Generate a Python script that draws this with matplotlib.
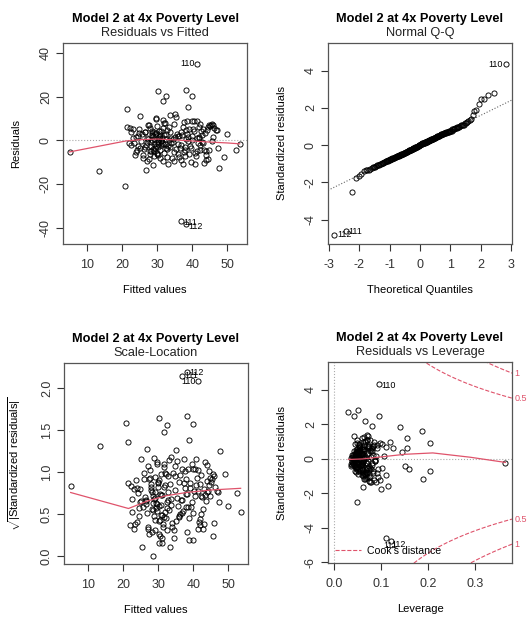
import matplotlib
matplotlib.use("Agg")
import matplotlib.pyplot as plt
import numpy as np
from statistics import NormalDist

plt.rcParams['font.family'] = ['Liberation Sans', 'DejaVu Sans']
plt.rcParams['mathtext.fontset'] = 'custom'
plt.rcParams['mathtext.rm'] = 'Liberation Sans'
plt.rcParams['axes.unicode_minus'] = False

# fitted values / residuals / leverage
fitted = [
    22.1, 23.4, 24.8, 26.2, 27.5, 28.3, 29.1, 29.8, 30.6, 31.2,
    31.9, 32.7, 33.4, 34.2, 35.1, 36.0, 36.8, 37.7, 38.5, 39.4,
    40.2, 41.1, 42.0, 42.9, 43.8, 44.6, 45.3, 28.7, 29.4, 30.1,
    27.9, 28.4, 29.0, 29.6, 30.3, 30.9, 31.5, 32.2, 26.8, 27.3,
    25.6, 24.2, 23.0, 21.8, 22.6, 24.9, 26.0, 33.0, 33.7, 34.5,
    35.4, 36.3, 37.2, 38.1, 38.9, 39.8, 40.7, 41.6, 42.4, 43.3,
    28.1, 28.8, 29.3, 29.9, 30.4, 31.0, 31.7, 27.6, 28.5, 29.2,
    30.0, 30.7, 31.4, 32.0, 32.9, 33.6, 34.4, 35.2, 36.1, 37.0,
    37.9, 38.7, 39.6, 40.5, 41.3, 42.2, 43.1, 44.0, 44.9, 45.7,
    23.8, 24.5, 25.3, 26.5, 27.1, 27.8, 28.2, 28.9, 29.5, 30.2,
    30.8, 31.3, 31.8, 32.4, 33.1, 33.9, 34.7, 35.6, 36.5, 37.4,
    38.3, 39.1, 40.0, 40.9, 41.8, 42.7, 43.6, 44.4, 45.1, 45.9,
    29.7, 30.5, 31.1, 28.6, 29.0, 30.3, 31.6, 32.5, 27.2, 26.4,
    25.1, 23.2, 22.4, 21.4, 24.0, 36.7, 37.5, 38.0, 39.0, 39.9,
    41.4, 42.3, 43.2, 44.2, 46.3, 34.0, 34.9, 35.8, 33.3, 32.8,
    28.0, 28.6, 29.1, 29.7, 30.2, 30.7, 31.2, 32.3, 33.5, 27.0,
    35.9, 36.9, 37.8, 38.6, 39.5, 40.4, 41.2, 42.1, 43.0, 44.7,
    26.6, 27.4, 24.4, 25.8, 32.6, 34.8, 41.9, 45.5, 47.0, 23.6,
    5.0, 13.5, 20.9, 21.3, 25.0, 26.8, 30.1, 32.6, 31.7, 38.3,
    39.8, 38.8, 41.2, 36.9, 38.2, 53.5, 52.5, 50.0, 47.5, 48.9,
    47.3, 46.7, 35.0, 46.0, 43.9, 31.5,
]
resid = [
    5.8, -1.2, 3.4, -4.1, 7.2, -2.6, 0.8, -6.3, 4.5, -0.4,
    2.3, -3.8, 6.1, -8.2, 1.5, -1.9, 3.7, -5.4, 9.0, -2.8,
    5.0, -7.1, 1.1, 2.6, -4.7, 5.9, 6.8, 1.9, -3.3, 0.2,
    -5.1, 4.2, -7.4, 9.9, -1.5, 3.1, -9.3, 7.8, -2.2, 0.6,
    2.9, -4.6, 0.9, -1.1, -2.3, 5.3, -6.9, -2.5, 3.9, -0.8,
    -4.0, 2.1, -10.9, 4.6, -0.3, 8.8, -5.8, -1.4, 4.1, -10.2,
    -0.7, -3.9, 2.7, -5.7, 0.5, -2.0, 5.6, -8.6, 3.3, -1.6,
    6.5, -4.4, 1.2, -6.0, 4.8, -3.1, 0.4, 10.6, -7.8, 2.4,
    -2.9, 1.7, -9.9, 8.9, 0.9, -4.3, 5.2, -6.6, 7.1, -0.5,
    1.4, -2.7, -0.1, 3.6, -9.6, 5.7, -4.9, -11.2, 10.3, -6.7,
    2.0, -1.0, 8.1, -3.5, -10.7, 1.0, -5.2, 3.0, -3.7, 6.3,
    0.7, -6.2, 2.2, -11.0, 6.0, -0.9, 3.5, -8.4, 6.4, 1.3,
    -2.4, 1.6, -0.2, 0.0, 4.0, -3.0, -1.8, 2.8, 1.0, -3.2,
    -3.6, 5.2, 3.8, 6.2, -5.5, -8.9, 8.4, -4.5, 5.4, 0.3,
    8.7, -2.1, -4.4, 4.9, 5.5, -1.3, 7.5, -6.4, 0.1, -7.6,
    -6.1, 2.5, -4.8, 3.2, -0.6, -8.0, 4.4, -1.7, 11.4, -0.9,
    1.8, -2.2, -7.0, 2.9, -3.4, 4.3, -5.0, 7.7, -1.2, -4.2,
    3.7, 7.0, 1.9, -8.1, 0.8, -9.6, 1.6, 7.6, 4.7, -6.8,
    -5.3, -14.0, -21.0, 14.5, 11.1, -13.5, 22.7, 20.4, 18.1, 23.2,
    20.1, 15.5, 35.1, -37.0, -38.3, -1.9, -4.5, 2.8, -12.5, -7.7,
    -3.3, 4.8, 12.2, 6.9, -9.0, 9.5,
]
lev = [
    0.071, 0.062, 0.055, 0.048, 0.044, 0.051, 0.039, 0.046, 0.058, 0.042,
    0.047, 0.036, 0.053, 0.061, 0.044, 0.067, 0.052, 0.073, 0.049, 0.081,
    0.078, 0.065, 0.088, 0.072, 0.094, 0.083, 0.102, 0.038, 0.041, 0.035,
    0.049, 0.055, 0.062, 0.058, 0.043, 0.050, 0.068, 0.066, 0.056, 0.037,
    0.060, 0.072, 0.078, 0.086, 0.069, 0.052, 0.064, 0.040, 0.048, 0.057,
    0.046, 0.059, 0.079, 0.063, 0.054, 0.070, 0.082, 0.061, 0.075, 0.097,
    0.042, 0.051, 0.047, 0.055, 0.045, 0.039, 0.060, 0.074, 0.048, 0.044,
    0.053, 0.046, 0.058, 0.050, 0.062, 0.043, 0.067, 0.071, 0.065, 0.057,
    0.060, 0.052, 0.084, 0.077, 0.063, 0.069, 0.080, 0.091, 0.098, 0.087,
    0.065, 0.058, 0.050, 0.042, 0.066, 0.054, 0.059, 0.076, 0.063, 0.069,
    0.044, 0.038, 0.061, 0.043, 0.073, 0.052, 0.060, 0.049, 0.055, 0.064,
    0.050, 0.068, 0.058, 0.089, 0.074, 0.071, 0.079, 0.093, 0.085, 0.105,
    0.036, 0.040, 0.045, 0.041, 0.047, 0.037, 0.048, 0.051, 0.053, 0.057,
    0.061, 0.074, 0.080, 0.090, 0.068, 0.070, 0.066, 0.058, 0.072, 0.064,
    0.070, 0.081, 0.077, 0.090, 0.110, 0.054, 0.048, 0.062, 0.041, 0.050,
    0.044, 0.050, 0.053, 0.046, 0.041, 0.058, 0.049, 0.037, 0.070, 0.043,
    0.055, 0.060, 0.067, 0.050, 0.073, 0.062, 0.078, 0.084, 0.086, 0.101,
    0.063, 0.052, 0.069, 0.075, 0.046, 0.064, 0.082, 0.118, 0.126, 0.082,
    0.205, 0.100, 0.048, 0.140, 0.042, 0.062, 0.030, 0.042, 0.065, 0.050,
    0.095, 0.080, 0.095, 0.110, 0.120, 0.365, 0.160, 0.145, 0.115, 0.110,
    0.150, 0.155, 0.187, 0.205, 0.190, 0.155,
]
labels = {"110": 192, "111": 193, "112": 194}  # index of labelled obs
sigma = 8.5
n_par = 15

# lowess curves as drawn by R
smooth1_x = [5, 21, 25, 30, 35, 40, 45, 50, 53.5]
smooth1_y = [-5.3, -0.3, 0.3, 0.6, 0.2, -0.3, -0.8, -1.2, -1.6]
smooth3_x = [5, 21.5, 27, 32, 38, 45, 53.5]
smooth3_y = [0.76, 0.57, 0.66, 0.72, 0.76, 0.79, 0.81]
smooth4_x = [0.03, 0.06, 0.1, 0.15, 0.21, 0.29, 0.365]
smooth4_y = [-0.05, -0.02, 0.1, 0.25, 0.33, 0.08, -0.22]

fitted = np.array(fitted)
resid = np.array(resid)
lev = np.array(lev)
std = resid / (sigma * np.sqrt(1 - lev))
n = len(std)
order = np.argsort(std)
theo = np.empty(n)
theo[order] = [NormalDist().inv_cdf((i + 0.5) / n) for i in range(n)]

red = "#DF536B"
pt = dict(marker='o', ls='none', mfc='none', mec='black', ms=3.7, mew=0.65)
title = "Model 2 at 4x Poverty Level"
lab_fs = 6.5

fig = plt.figure(figsize=(5.29, 6.18), dpi=100)
W, H = 5.29 * 100, 6.18 * 100
boxes = [(63, 43), (328, 43), (64, 363), (328, 362)]
axs = [fig.add_axes([x / W, 1 - (y + 201) / H, 184 / W, 201 / H]) for x, y in boxes]


def style(ax, sub, xlab, ylab):
    ax.text(0.5, 1.12, title, transform=ax.transAxes, ha='center', va='center',
            fontsize=9.2, fontweight='bold')
    ax.text(0.5, 1.05, sub, transform=ax.transAxes, ha='center', va='center',
            fontsize=9.2, color='#222222')
    ax.set_xlabel(xlab, fontsize=8)
    ax.set_ylabel(ylab, fontsize=8)
    ax.xaxis.set_label_coords(0.5, -0.205)
    ax.yaxis.set_label_coords(-0.225, 0.5)
    ax.tick_params(direction='out', length=5, width=0.8, labelsize=9,
                   colors='#333333')
    ax.tick_params(axis='x', pad=6)
    ax.tick_params(axis='y', pad=3)
    for lab in ax.get_yticklabels():
        lab.set_rotation(90)
        lab.set_va('center')
    for s in ax.spines.values():
        s.set_color('#555555')
        s.set_linewidth(0.9)


# Residuals vs Fitted
ax = axs[0]
ax.axhline(0, color='#aaaaaa', ls=':', lw=0.8)
ax.plot(fitted, resid, **pt)
ax.plot(smooth1_x, smooth1_y, color=red, lw=0.9)
ax.set_xlim(3.1, 55.6)
ax.set_ylim(-47.5, 44.6)
ax.set_xticks([10, 20, 30, 40, 50])
ax.set_yticks([-40, -20, 0, 20, 40])
i = labels["110"]
ax.text(fitted[i] - 0.6, resid[i], "110", ha='right', va='center', fontsize=lab_fs)
i = labels["111"]
ax.text(fitted[i] + 0.6, resid[i] - 0.5, "111", ha='left', va='center', fontsize=lab_fs)
i = labels["112"]
ax.text(fitted[i] + 0.6, resid[i] - 1.0, "112", ha='left', va='center', fontsize=lab_fs)
style(ax, "Residuals vs Fitted", "Fitted values", "Residuals")

# Normal Q-Q
ax = axs[1]
q1, q3 = np.percentile(std, [25, 75])
z = NormalDist().inv_cdf(0.75)
slope = (q3 - q1) / (2 * z)
ax.axline((0, (q1 + q3) / 2), slope=slope, color='#666666', ls=':', lw=0.8)
ax.plot(theo, std, **pt)
ax.set_xlim(-3.03, 3.03)
ax.set_ylim(-5.3, 5.48)
ax.set_xticks([-3, -2, -1, 0, 1, 2, 3])
ax.set_yticks([-4, -2, 0, 2, 4])
i = labels["110"]
ax.text(theo[i] - 0.08, std[i], "110", ha='right', va='center', fontsize=lab_fs)
for k in ("111", "112"):
    i = labels[k]
    ax.text(theo[i] + 0.08, std[i], k, ha='left', va='center', fontsize=lab_fs)
style(ax, "Normal Q-Q", "Theoretical Quantiles", "Standardized residuals")

# Scale-Location
ax = axs[2]
sl = np.sqrt(np.abs(std))
ax.plot(fitted, sl, **pt)
ax.plot(smooth3_x, smooth3_y, color=red, lw=0.9)
ax.set_xlim(3.1, 55.6)
ax.set_ylim(-0.09, 2.30)
ax.set_xticks([10, 20, 30, 40, 50])
ax.set_yticks([0.0, 0.5, 1.0, 1.5, 2.0])
i = labels["110"]
ax.text(fitted[i] - 0.6, sl[i], "110", ha='right', va='center', fontsize=lab_fs)
for k in ("111", "112"):
    i = labels[k]
    ax.text(fitted[i] + 0.6, sl[i], k, ha='left', va='center', fontsize=lab_fs)
style(ax, "Scale-Location", "Fitted values",
      r"$\sqrt{|\mathrm{Standardized\ residuals}|}$")

# Residuals vs Leverage
ax = axs[3]
ax.axhline(0, color='#aaaaaa', ls=':', lw=0.8)
ax.axvline(0, color='#aaaaaa', ls=':', lw=0.8)
ax.plot(lev, std, **pt)
ax.plot(smooth4_x, smooth4_y, color=red, lw=0.9)
xmax = 0.379
hh = np.linspace(0.001, xmax, 101)
for crit in (0.5, 1):
    cl = np.sqrt(crit * n_par * (1 - hh) / hh)
    ax.plot(hh, cl, color=red, ls='--', lw=0.8,
            label="Cook's distance" if crit == 0.5 else None)
    ax.plot(hh, -cl, color=red, ls='--', lw=0.8)
    edge = np.sqrt(crit * n_par * (1 - xmax) / xmax)
    for sgn in (1, -1):
        ax.text(1.015, sgn * edge, f"{crit:g}", transform=ax.get_yaxis_transform(),
                color=red, fontsize=lab_fs, ha='left', va='center')
ax.set_xlim(-0.0136, xmax)
ax.set_ylim(-6.05, 5.6)
ax.set_xticks([0.0, 0.1, 0.2, 0.3])
ax.set_yticks([-6, -4, -2, 0, 2, 4])
i = labels["110"]
ax.text(lev[i] + 0.005, std[i] - 0.1, "110", ha='left', va='center', fontsize=lab_fs)
i = labels["111"]
ax.text(lev[i] - 0.006, std[i] - 0.4, "111", ha='left', va='center', fontsize=lab_fs)
i = labels["112"]
ax.text(lev[i] + 0.002, std[i] - 0.15, "112", ha='left', va='center', fontsize=lab_fs)
ax.legend(loc='lower left', frameon=False, fontsize=7.6, handlelength=2.4,
          handletextpad=0.6, borderaxespad=0.3, bbox_to_anchor=(0.0, 0.0))
style(ax, "Residuals vs Leverage", "Leverage", "Standardized residuals")

fig.savefig("out.png", dpi=100)
